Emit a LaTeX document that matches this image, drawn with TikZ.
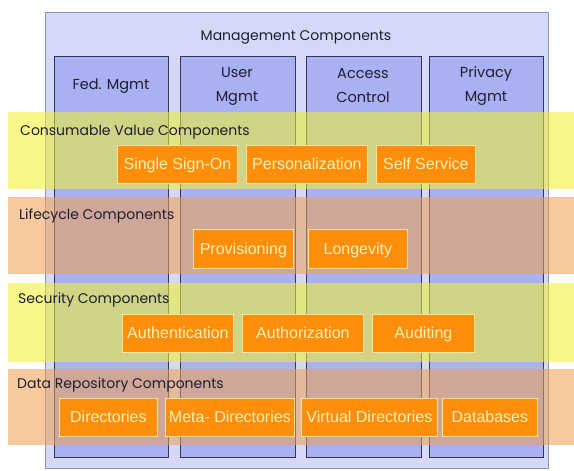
\documentclass[tikz,border=0pt]{standalone}
\usepackage{fontspec}
\setmainfont{Liberation Sans}
\newfontfamily\labelfont{Poppins}
\definecolor{outerfill}{HTML}{D3D9F7}
\definecolor{outerdraw}{HTML}{8C96B4}
\definecolor{colfill}{HTML}{A9B1F2}
\definecolor{coldraw}{HTML}{33355E}
\definecolor{yellowband}{HTML}{F2F22A}
\definecolor{orangeband}{HTML}{F0A050}
\definecolor{comporange}{HTML}{FF8E0C}
\definecolor{compedge}{HTML}{FFE39A}
\definecolor{comptext}{HTML}{FFF2B8}
\definecolor{labeltext}{HTML}{1E1E2E}
\begin{document}
\begin{tikzpicture}[x=1pt,y=-1pt,
  outerbox/.style={draw=outerdraw, fill=outerfill, line width=1.2pt, anchor=north west, inner sep=0pt},
  colbox/.style={draw=coldraw, fill=colfill, line width=0.9pt, anchor=north west, inner sep=0pt},
  band/.style={draw=none, fill opacity=0.55, anchor=north west, inner sep=0pt, minimum width=566pt},
  yband/.style={band, fill=yellowband},
  oband/.style={band, fill=orangeband},
  comp/.style={draw=compedge, line width=0.8pt, fill=comporange, text=comptext, inner sep=0pt,
    text height=11.5pt, text depth=0.5pt,
    anchor=north west, font=\fontsize{16}{16}\selectfont},
  title/.style={font=\labelfont\fontsize{14.5}{24}\selectfont, text=labeltext, inner sep=0pt, align=center},
  bandlabel/.style={title, anchor=west, font=\labelfont\fontsize{14}{20}\selectfont}
]
\useasboundingbox (0,0) rectangle (574,471);
\fill[white] (0,0) rectangle (574,471);

% management frame and its four columns
\node[outerbox, minimum width=503pt, minimum height=456pt] (mgmt) at (45,12) {};
\node[title, font=\labelfont\fontsize{14}{20}\selectfont] (mgmtlabel) at (296,37) {Management Components};
\node[colbox, minimum width=114pt, minimum height=401pt] (fed) at (54,56) {};
\node[colbox, minimum width=115pt, minimum height=401pt] (user) at (180,56) {};
\node[colbox, minimum width=115pt, minimum height=401pt] (access) at (306,56) {};
\node[colbox, minimum width=114pt, minimum height=401pt] (privacy) at (429,56) {};
\node[title] (fedlabel) at (111,86) {Fed. Mgmt};
\node[title] (userlabel) at (237,86) {User\\Mgmt};
\node[title] (accesslabel) at (363,86) {Access\\Control};
\node[title] (privacylabel) at (486,86) {Privacy\\Mgmt};

% translucent layers across the frame
\node[yband, minimum height=77pt] (consumable) at (8,112) {};
\node[oband, minimum height=77pt] (lifecycle) at (8,197) {};
\node[yband, minimum height=79pt] (security) at (8,283) {};
\node[oband, minimum height=76pt] (data) at (8,369) {};
\node[bandlabel] (consumablelabel) at (20,132) {Consumable Value Components};
\node[bandlabel] (lifecyclelabel) at (19,216) {Lifecycle Components};
\node[bandlabel] (securitylabel) at (18,300) {Security Components};
\node[bandlabel] (datalabel) at (17,385) {Data Repository Components};

% consumable value components
\node[comp, minimum width=120pt, minimum height=38pt] (sso) at (117,145) {Single Sign-On};
\node[comp, minimum width=121pt, minimum height=38pt] (pers) at (246,145) {Personalization};
\node[comp, minimum width=99pt, minimum height=38pt] (self) at (376,145) {Self Service};
% lifecycle components
\node[comp, minimum width=100pt, minimum height=39pt] (prov) at (193,229) {Provisioning};
\node[comp, minimum width=99pt, minimum height=39pt] (long) at (308,229) {Longevity};
% security components
\node[comp, minimum width=111pt, minimum height=38pt] (authn) at (122,314) {Authentication};
\node[comp, minimum width=121pt, minimum height=38pt] (authz) at (242,314) {Authorization};
\node[comp, minimum width=102pt, minimum height=38pt] (audit) at (372,314) {Auditing};
% data repository components
\node[comp, minimum width=98pt, minimum height=38pt] (dir) at (59,398) {Directories};
\node[comp, minimum width=129pt, minimum height=38pt] (meta) at (165,398) {Meta- Directories};
\node[comp, minimum width=136pt, minimum height=38pt] (virt) at (301,398) {Virtual Directories};
\node[comp, minimum width=95pt, minimum height=38pt] (db) at (442,398) {Databases};
\end{tikzpicture}
\end{document}
